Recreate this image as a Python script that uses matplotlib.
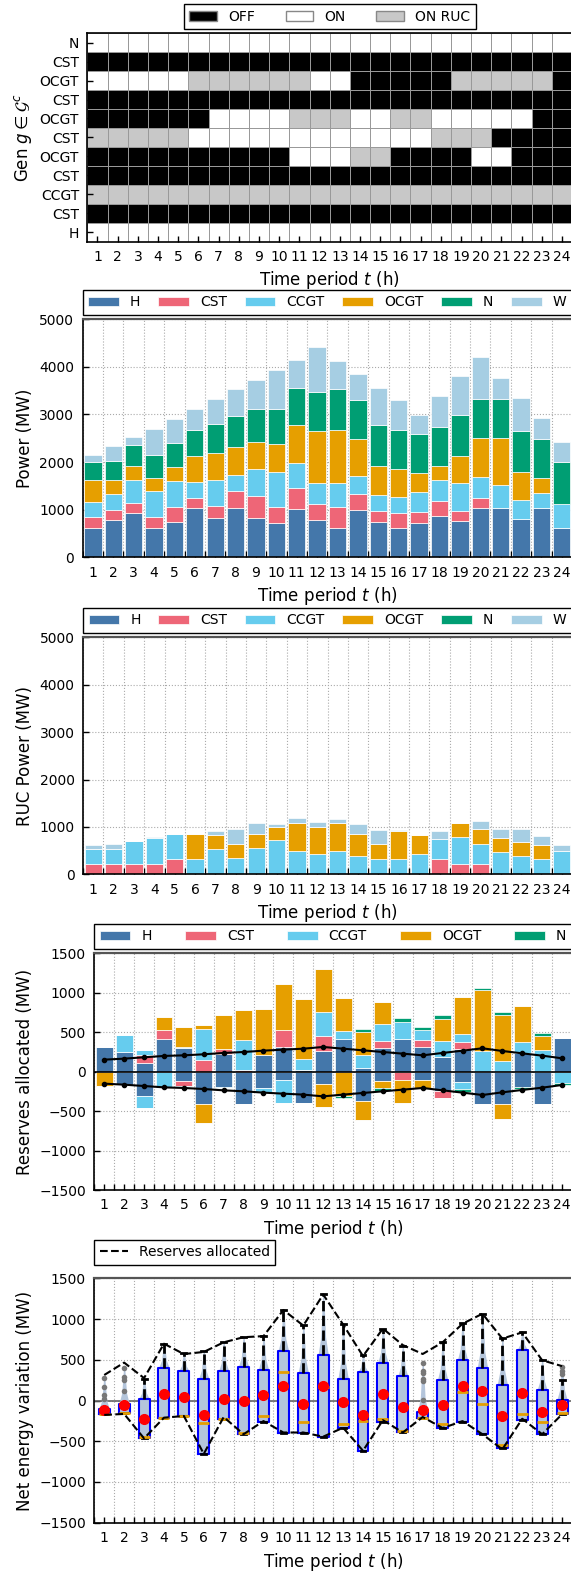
import matplotlib
matplotlib.use('Agg')
import matplotlib.pyplot as plt
import numpy as np
from matplotlib.colors import ListedColormap
from matplotlib.patches import Patch
from matplotlib.lines import Line2D

plt.rcParams['legend.fancybox'] = False
plt.rcParams['legend.framealpha'] = 1.0
plt.rcParams['legend.edgecolor'] = 'black'

hours = list(range(1, 25))
techs = ['H', 'CST', 'CCGT', 'OCGT', 'N', 'W']
tech_colors = ['#4477aa', '#ee6677', '#66ccee', '#e69f00', '#009e73', '#a6cee3']

# commitment status (top row first): 0 = OFF, 1 = ON, 2 = ON RUC
gen_labels = ['N', 'CST', 'OCGT', 'CST', 'OCGT', 'CST', 'OCGT', 'CST', 'CCGT', 'CST', 'H']
gen_status = [
    '111111111111111111111111',
    '000000000000000000000000',
    '111112222221100000222220',
    '000000000000000000000000',
    '000000111122211221111100',
    '222221111111111112220000',
    '000000000011122000011000',
    '000000000000000000000000',
    '222222222222222222222222',
    '000000000000000000000000',
    '111111111111111111111111',
]
status_names = ['OFF', 'ON', 'ON RUC']
status_colors = ['black', 'white', '#c8c8c8']

# dispatched power (MW)
power_H = [625, 786, 926, 625, 744, 1039, 821, 1039, 828, 723, 1011, 786,
           625, 989, 744, 625, 730, 863, 758, 1039, 1039, 814, 1039, 625]
power_CST = [217, 210, 225, 217, 316, 217, 260, 350, 456, 337, 449, 344,
             435, 337, 238, 315, 224, 323, 224, 217, 0, 0, 0, 0]
power_CCGT = [330, 344, 477, 547, 533, 330, 533, 344, 562, 736, 512, 428,
              505, 379, 323, 330, 421, 435, 569, 435, 477, 400, 322, 505]
power_OCGT = [456, 274, 295, 281, 295, 533, 582, 583, 568, 576, 800, 1095,
              1102, 772, 604, 590, 400, 288, 575, 821, 982, 575, 295, 0]
power_N = [365, 400, 435, 484, 519, 562, 611, 645, 702, 737, 786, 821,
           870, 821, 870, 814, 821, 828, 863, 814, 835, 864, 821, 863]
power_W = [161, 330, 161, 541, 498, 435, 519, 576, 617, 835, 596, 940,
           596, 548, 779, 624, 393, 645, 814, 885, 428, 694, 442, 435]

# RUC power (MW)
ruc_H = [0] * 24
ruc_CST = [218, 218, 218, 218, 323, 0, 0, 0, 0, 0, 0, 0,
           0, 0, 0, 0, 0, 323, 218, 218, 0, 0, 0, 0]
ruc_CCGT = [323, 323, 492, 548, 527, 323, 541, 344, 562, 724, 499, 429,
            499, 379, 323, 323, 422, 429, 562, 429, 471, 394, 323, 499]
ruc_OCGT = [0, 0, 0, 0, 0, 527, 288, 288, 288, 281, 583, 562,
            583, 471, 316, 583, 407, 0, 295, 302, 295, 288, 288, 0]
ruc_N = [0] * 24
ruc_W = [84, 99, 0, 21, 0, 0, 77, 324, 239, 63, 99, 119,
         85, 204, 296, 29, 0, 169, 0, 182, 183, 267, 197, 119]

# reserves allocated, upward (MW)
up_H = [313, 253, 110, 418, 304, 0, 220, 0, 211, 313, 21, 262,
        418, 46, 300, 418, 313, 182, 283, 0, 0, 232, 0, 422]
up_CST = [0, 0, 101, 106, 0, 148, 63, 20, 0, 211, 0, 194,
          0, 0, 84, 0, 93, 0, 97, 0, 0, 0, 0, 0]
up_CCGT = [0, 212, 64, 0, 13, 393, 0, 377, 0, 0, 139, 304,
           93, 165, 220, 216, 127, 202, 97, 262, 135, 148, 275, 0]
up_OCGT = [0, 0, 0, 173, 253, 55, 431, 380, 579, 587, 760, 541,
           422, 292, 279, 0, 0, 288, 465, 773, 583, 456, 181, 0]
up_N = [0, 0, 0, 0, 0, 0, 0, 0, 0, 0, 0, 0,
        0, 42, 0, 46, 38, 42, 0, 30, 42, 0, 38, 0]
# reserves allocated, downward (MW, magnitudes)
dn_H = [0, 165, 304, 0, 118, 414, 190, 414, 203, 101, 393, 156,
        0, 372, 123, 0, 106, 240, 127, 414, 414, 190, 414, 0]
dn_CST = [0, 0, 0, 0, 59, 0, 0, 0, 0, 0, 0, 0,
          0, 0, 0, 106, 0, 98, 0, 0, 0, 0, 0, 0]
dn_CCGT = [0, 0, 161, 211, 13, 0, 13, 0, 50, 292, 0, 0,
           0, 0, 0, 0, 0, 0, 97, 0, 0, 0, 0, 139]
dn_OCGT = [177, 0, 0, 0, 0, 241, 0, 0, 0, 0, 0, 288,
           304, 245, 84, 287, 97, 0, 0, 0, 186, 0, 0, 0]
dn_N = [0, 0, 0, 0, 0, 0, 0, 0, 0, 0, 0, 0,
        30, 0, 34, 0, 0, 0, 29, 0, 0, 34, 0, 30]
reserve_req = [152, 165, 182, 199, 207, 220, 237, 249, 266, 279, 291, 313,
               291, 270, 249, 228, 207, 237, 266, 296, 262, 232, 203, 169]

# net energy variation box statistics (MW)
nev_q1 = [-160, -155, -463, -217, -196, -659, -225, -413, -266, -393, -393, -442,
          -340, -614, -258, -389, -217, -340, -266, -413, -589, -237, -413, -160]
nev_q3 = [-110, -41, 20, 405, 360, 266, 356, 413, 377, 610, 336, 557,
          270, 348, 463, 295, -147, 254, 495, 401, 192, 622, 123, 8]
nev_med = [-160, -155, -454, -217, -196, -274, -225, -401, -196, 348, -266, 164,
           -287, -246, -225, -372, -217, -291, 102, -37, -544, -160, -270, -150]
nev_mean = [-115, -53, -221, 74, 45, -184, 16, -12, 65, 184, -37, 172,
            -20, -176, 78, -74, -115, -61, 172, 119, -196, 98, -147, -61]
nev_whishi = [-110, -41, 262, 696, 577, 606, 716, 778, 794, 1109, 929, 1302,
              941, 553, 880, 667, -147, 724, 950, 1064, 765, 839, 499, 254]
nev_fliers = {1: [280, 164, 65, 18], 2: [405, 285, 255, 119],
              17: [460, 365, 340, 265, 235, 5], 24: [417, 356, 327]}

W, H = 571, 1575
fig = plt.figure(figsize=(W / 100, H / 100), dpi=100)


def box(l, t, r, b):
    return [l / W, 1 - b / H, (r - l) / W, (b - t) / H]


def style(ax, ylabel, grid=True):
    ax.set_xlim(0.5, 24.5)
    ax.set_xticks(hours)
    ax.set_xticklabels([str(h) for h in hours])
    ax.tick_params(which='both', direction='in', length=4, width=1, labelsize=10, pad=6)
    if grid:
        ax.set_xticks(np.arange(0.5, 25, 1), minor=True)
        ax.grid(which='minor', axis='x', ls=':', color='#aaaaaa', lw=0.8)
        ax.grid(which='major', axis='y', ls=':', color='#aaaaaa', lw=0.8)
        ax.set_axisbelow(True)
    ax.set_xlabel('Time period $t$ (h)', fontsize=12)
    ax.set_ylabel(ylabel, fontsize=12)
    for s in ['left', 'bottom']:
        ax.spines[s].set_linewidth(1.2)
    ax.spines['top'].set_color('#555555')
    ax.spines['top'].set_linewidth(1.6)


def legend_top(ax, handles, labels, ncol):
    leg = ax.legend(handles, labels, loc='lower left', bbox_to_anchor=(0, 1.018, 1, 0.1),
                    mode='expand', ncol=ncol, borderaxespad=0, fontsize=10,
                    handlelength=2.2)
    leg.get_frame().set_linewidth(1.0)


def stacked(ax, series, labels):
    pos = np.zeros(24)
    handles = []
    for vals, c, lab in zip(series, tech_colors, labels):
        b = ax.bar(hours, vals, 0.85, bottom=pos, color=c, edgecolor='white', lw=0.5, label=lab)
        handles.append(b)
        pos += np.array(vals)
    return handles


# ---- unit commitment status
ax0 = fig.add_axes(box(87.4, 33.3, 572, 241.5))
status = np.array([[int(c) for c in row] for row in gen_status])
ax0.pcolormesh(np.arange(0.5, 25, 1), np.arange(len(gen_labels) + 1), status,
               cmap=ListedColormap(status_colors), vmin=0, vmax=2,
               edgecolors='#999999', linewidth=0.6)
ax0.set_ylim(len(gen_labels), 0)
ax0.set_yticks(np.arange(len(gen_labels)) + 0.5)
ax0.set_yticklabels(gen_labels)
style(ax0, 'Gen $g \\in \\mathcal{G}^c$', grid=False)
ax0.spines['top'].set_color('black')
ax0.spines['top'].set_linewidth(1.2)
hs = [Patch(facecolor=c, edgecolor='#888888') for c in status_colors]
leg = ax0.legend(hs, status_names, loc='lower center', bbox_to_anchor=(0.5, 1.02),
                 ncol=3, borderaxespad=0, fontsize=10, columnspacing=2.2)
leg.get_frame().set_linewidth(1.0)

# ---- power
ax1 = fig.add_axes(box(82.7, 319.3, 572, 557.3))
h1 = stacked(ax1, [power_H, power_CST, power_CCGT, power_OCGT, power_N, power_W], techs)
ax1.set_ylim(0, 5000)
ax1.set_yticks([0, 1000, 2000, 3000, 4000, 5000])
style(ax1, 'Power (MW)')
legend_top(ax1, h1, techs, 6)

# ---- RUC power
ax2 = fig.add_axes(box(83, 637.3, 572, 874.3))
h2 = stacked(ax2, [ruc_H, ruc_CST, ruc_CCGT, ruc_OCGT, ruc_N, ruc_W], techs)
ax2.set_ylim(0, 5000)
ax2.set_yticks([0, 1000, 2000, 3000, 4000, 5000])
style(ax2, 'RUC Power (MW)')
legend_top(ax2, h2, techs, 6)

# ---- reserves
ax3 = fig.add_axes(box(94.3, 953.3, 572, 1190))
h3 = stacked(ax3, [up_H, up_CST, up_CCGT, up_OCGT, up_N], techs[:5])
neg = np.zeros(24)
for vals, c in zip([dn_H, dn_CST, dn_CCGT, dn_OCGT, dn_N], tech_colors):
    ax3.bar(hours, -np.array(vals), 0.85, bottom=neg, color=c, edgecolor='white', lw=0.5)
    neg -= np.array(vals)
ax3.axhline(0, color='black', lw=1.2, zorder=3)
ax3.plot(hours, reserve_req, color='black', marker='o', ms=3, lw=1.5, zorder=4)
ax3.plot(hours, -np.array(reserve_req), color='black', marker='o', ms=3, lw=1.5, zorder=4)
ax3.set_ylim(-1500, 1500)
ax3.set_yticks(np.arange(-1500, 1501, 500))
style(ax3, 'Reserves allocated (MW)')
legend_top(ax3, h3, techs[:5], 5)

# ---- net energy variation
ax4 = fig.add_axes(box(94.3, 1278.3, 572, 1522.7))
stats = []
for i, t in enumerate(hours):
    fl = nev_fliers.get(t, [])
    stats.append(dict(med=nev_med[i], q1=nev_q1[i], q3=nev_q3[i], mean=nev_mean[i],
                      whislo=nev_q1[i], whishi=nev_whishi[i], fliers=fl))
    top = max([nev_whishi[i]] + fl)
    yy = [nev_q1[i], nev_q3[i], nev_q3[i] + 0.3 * (top - nev_q3[i]), top]
    hw = np.array([0.27, 0.26, 0.12, 0.03])
    ax4.fill_betweenx(yy, t - hw, t + hw, color='#b4c5db', lw=0, zorder=2)
ax4.bxp(stats, positions=hours, widths=0.55, showmeans=True, manage_ticks=False,
        boxprops=dict(color='blue', lw=1.5),
        whiskerprops=dict(color='black', ls='--', lw=2),
        capprops=dict(color='black', lw=2), capwidths=0.25,
        medianprops=dict(color='#e69f00', lw=2),
        meanprops=dict(marker='o', markerfacecolor='red', markeredgecolor='red', markersize=7),
        flierprops=dict(marker='o', markerfacecolor='#777777', markeredgecolor='none', markersize=4),
        zorder=3)
ax4.axhline(0, color='#666666', lw=1.2, zorder=1)
res_up = np.array(up_H) + np.array(up_CST) + np.array(up_CCGT) + np.array(up_OCGT) + np.array(up_N)
res_dn = np.array(dn_H) + np.array(dn_CST) + np.array(dn_CCGT) + np.array(dn_OCGT) + np.array(dn_N)
ax4.plot(hours, res_up, color='black', ls='--', lw=1.5, zorder=4)
ax4.plot(hours, -res_dn, color='black', ls='--', lw=1.5, zorder=4)
ax4.set_ylim(-1500, 1500)
ax4.set_yticks(np.arange(-1500, 1501, 500))
style(ax4, 'Net energy variation (MW)')
leg = ax4.legend([Line2D([], [], color='black', ls='--', lw=1.5)], ['Reserves allocated'],
                 loc='lower left', bbox_to_anchor=(0, 1.055), borderaxespad=0, fontsize=10)
leg.get_frame().set_linewidth(1.0)

fig.savefig('out.png', dpi=100)
